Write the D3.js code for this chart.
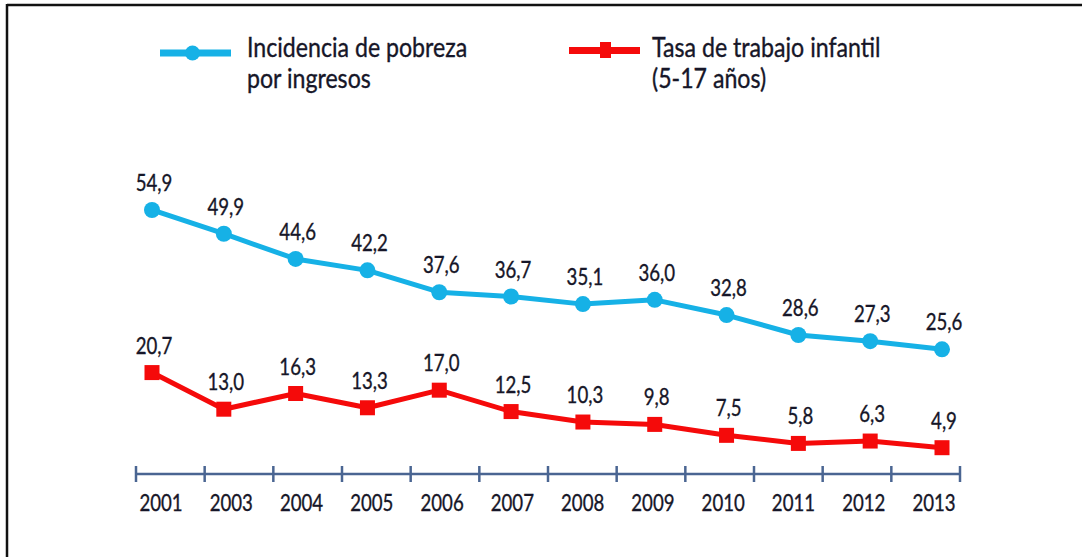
<!DOCTYPE html>
<html><head><meta charset="utf-8">
<script src="https://cdn.jsdelivr.net/npm/d3@7"></script>
<style>
html,body{margin:0;padding:0;background:#fff;}
svg{display:block;}
text{font-family:Lato,"Open Sans",sans-serif;fill:#161628;stroke:#161628;stroke-width:0.35px;}
</style></head>
<body>
<svg id="chart" width="1082" height="557"></svg>
<script>
const years = ["2001","2003","2004","2005","2006","2007","2008","2009","2010","2011","2012","2013"];
const pobreza = [54.9,49.9,44.6,42.2,37.6,36.7,35.1,36.0,32.8,28.6,27.3,25.6];
const trabajo = [20.7,13.0,16.3,13.3,17.0,12.5,10.3,9.8,7.5,5.8,6.3,4.9];
const seriesNames = [["Incidencia de pobreza","por ingresos"],["Tasa de trabajo infantil","(5-17 años)"]];

const BLUE = "#16b1e6", RED = "#f50a0a", AXIS = "#4a6592";
const fmt = v => v.toFixed(1).replace(".", ",");
const SX = 0.81, FS = 23;
const LSX = 0.89, LFS = 26;

const svg = d3.select("#chart");

// frame
svg.append("line").attr("x1",7).attr("x2",1082).attr("y1",5).attr("y2",5).attr("stroke","#111").attr("stroke-width",2.5);
svg.append("line").attr("x1",7).attr("x2",7).attr("y1",4).attr("y2",557).attr("stroke","#111").attr("stroke-width",2.5);

const xBand = d3.scaleBand().domain(years).range([136,960]);
const xPt = d3.scalePoint().domain(years).range([152,942]);
const xLab = d3.scalePoint().domain(years).range([161,934]);
const y = d3.scaleLinear().domain([0,55]).range([471,209.5]);

// axis
const axisY = 474;
svg.append("line").attr("x1",xBand.range()[0]).attr("x2",xBand.range()[1]).attr("y1",axisY).attr("y2",axisY)
  .attr("stroke",AXIS).attr("stroke-width",2.5);
const bounds = years.map(d=>xBand(d)).concat([xBand.range()[1]]);
svg.append("g").selectAll("line").data(bounds).join("line")
  .attr("x1",d=>d).attr("x2",d=>d).attr("y1",axisY-8).attr("y2",axisY+8)
  .attr("stroke",AXIS).attr("stroke-width",2.5);
svg.append("g").selectAll("text").data(years).join("text")
  .attr("transform",d=>`translate(${xLab(d)},511) scale(${SX},1)`)
  .attr("text-anchor","middle").attr("font-size",FS).text(d=>d);

// lines
const line = d3.line().x((d,i)=>xPt(years[i])).y(d=>y(d));
svg.append("path").datum(pobreza).attr("d",line).attr("fill","none").attr("stroke",BLUE).attr("stroke-width",5).attr("stroke-linejoin","round");
svg.append("path").datum(trabajo).attr("d",line).attr("fill","none").attr("stroke",RED).attr("stroke-width",5).attr("stroke-linejoin","round");

svg.append("g").selectAll("circle").data(pobreza).join("circle")
  .attr("cx",(d,i)=>xPt(years[i])).attr("cy",d=>y(d)).attr("r",8).attr("fill",BLUE);
const sq = 15;
svg.append("g").selectAll("rect").data(trabajo).join("rect")
  .attr("x",(d,i)=>xPt(years[i])-sq/2).attr("y",d=>y(d)-sq/2).attr("width",sq).attr("height",sq).attr("fill",RED);

// value labels
function labels(data){
  svg.append("g").selectAll("text").data(data).join("text")
    .attr("transform",(d,i)=>`translate(${xPt(years[i])+2},${y(d)-19}) scale(${SX},1)`)
    .attr("text-anchor","middle").attr("font-size",FS).text(d=>fmt(d));
}
labels(pobreza); labels(trabajo);

// legend
const lg = svg.append("g");
lg.append("line").attr("x1",160).attr("x2",231).attr("y1",53).attr("y2",53).attr("stroke",BLUE).attr("stroke-width",7);
lg.append("circle").attr("cx",192.5).attr("cy",53).attr("r",7.5).attr("fill",BLUE);
lg.append("line").attr("x1",569).attr("x2",640).attr("y1",50.5).attr("y2",50.5).attr("stroke",RED).attr("stroke-width",7);
lg.append("rect").attr("x",600).attr("y",42).attr("width",11).attr("height",16).attr("fill",RED);
[[247,seriesNames[0]],[652,seriesNames[1]]].forEach(([x,lines])=>{
  lines.forEach((t,j)=>{
    lg.append("text").attr("transform",`translate(${x},${57+j*31}) scale(${LSX},1)`)
      .attr("font-size",LFS).text(t);
  });
});
</script>
</body></html>
